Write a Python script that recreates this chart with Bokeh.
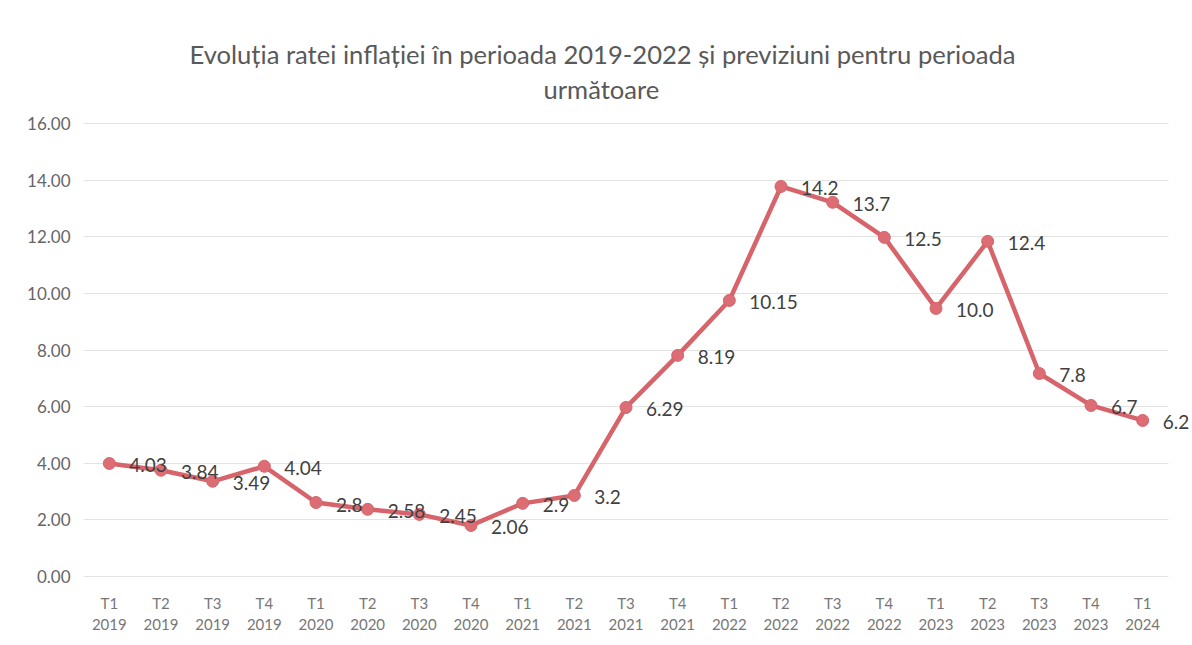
from bokeh.plotting import figure
from bokeh.models import (ColumnDataSource, LabelSet, Title, FixedTicker,
                          NumeralTickFormatter, Range1d, BoxAnnotation)
from bokeh.core.properties import value
from bokeh.embed import file_html
from bokeh.resources import INLINE

# ---- data ----
quarters = ["T1", "T2", "T3", "T4", "T1", "T2", "T3", "T4", "T1", "T2", "T3",
            "T4", "T1", "T2", "T3", "T4", "T1", "T2", "T3", "T4", "T1"]
years = ["2019", "2019", "2019", "2019", "2020", "2020", "2020", "2020", "2021",
         "2021", "2021", "2021", "2022", "2022", "2022", "2022", "2023", "2023",
         "2023", "2023", "2024"]
rate = [3.99, 3.75, 3.36, 3.89, 2.61, 2.37, 2.19, 1.80, 2.58, 2.86, 5.97,
        7.81, 9.75, 13.78, 13.22, 11.98, 9.47, 11.84, 7.17, 6.04, 5.51]
rate_labels = ["4.03", "3.84", "3.49", "4.04", "2.8", "2.58", "2.45", "2.06",
               "2.9", "3.2", "6.29", "8.19", "10.15", "14.2", "13.7", "12.5",
               "10.0", "12.4", "7.8", "6.7", "6.2"]
y_ticks = [0, 2, 4, 6, 8, 10, 12, 14, 16]
title_line1 = "Evoluția ratei inflației în perioada 2019-2022 și previziuni pentru perioada"
title_line2 = "următoare"

n = len(quarters)
idx = list(range(n))
tick_text = {i: q + "\n" + y for i, (q, y) in enumerate(zip(quarters, years))}

FONT = "Lato"
LINE_COLOR = "#d6646a"

# layout: plot area from 83 px to 1168 px, canvas continues to 1192 px
FRAME_L, GRID_R, W = 83, 1168, 1192
cat_px = (GRID_R - FRAME_L) / n
x_end = n - 0.5 + (W - GRID_R) / cat_px

src = ColumnDataSource(dict(x=idx, y=rate, text=rate_labels))

p = figure(width=W, height=636, x_range=Range1d(-0.5, x_end),
           y_range=(-0.04, 16.04), output_backend="svg", toolbar_location=None,
           min_border_left=FRAME_L, min_border_right=0, min_border_top=122,
           min_border_bottom=20)

# spacer nearest the plot area, then the two title lines
p.add_layout(Title(text=" ", text_font_size="2px", standoff=12), "above")
p.add_layout(Title(text=title_line2, text_font=FONT, text_font_size="25.6px",
                   text_font_style="normal", text_color="#595959",
                   align="left", offset=460, standoff=6), "above")
p.add_layout(Title(text=title_line1, text_font=FONT, text_font_size="25.6px",
                   text_font_style="normal", text_color="#595959",
                   align="left", offset=106, standoff=0), "above")

# hide the grid beyond the last category slot
p.add_layout(BoxAnnotation(left=n - 0.5, fill_color="white", fill_alpha=1,
                           line_alpha=0, level="underlay"))

p.line("x", "y", source=src, line_color=LINE_COLOR, line_width=4.5,
       line_join="round")
p.scatter("x", "y", source=src, size=12, fill_color="#dd6d75",
          line_color=LINE_COLOR, line_width=1)

labels = LabelSet(x="x", y="y", text="text", source=src, x_offset=20,
                  y_offset=-2, text_align="left", text_baseline="middle",
                  text_font=value(FONT), text_font_size=value("19px"),
                  text_color="#404040")
p.add_layout(labels)

p.outline_line_color = None
p.background_fill_color = "white"
p.border_fill_color = "white"

p.xgrid.grid_line_color = None
p.ygrid.grid_line_color = "#e3e3e3"
p.ygrid.grid_line_width = 1

p.yaxis.ticker = FixedTicker(ticks=y_ticks)
p.yaxis.formatter = NumeralTickFormatter(format="0.00")
p.yaxis.axis_line_color = None
p.yaxis.major_tick_line_color = None
p.yaxis.minor_tick_line_color = None
p.yaxis.major_label_standoff = 7
p.yaxis.major_label_text_font = FONT
p.yaxis.major_label_text_font_size = "17px"
p.yaxis.major_label_text_color = "#666666"

p.xaxis.ticker = FixedTicker(ticks=idx)
p.xaxis.major_label_overrides = tick_text
p.xaxis.axis_line_color = None
p.xaxis.major_tick_line_color = None
p.xaxis.minor_tick_line_color = None
p.xaxis.major_label_standoff = 10
p.xaxis.major_label_text_font = FONT
p.xaxis.major_label_text_font_size = "15px"
p.xaxis.major_label_text_color = "#777777"
p.xaxis.major_label_orientation = "horizontal"

open("out.html", "w").write(file_html(p, INLINE))
